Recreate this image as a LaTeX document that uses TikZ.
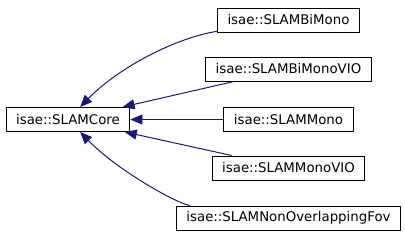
\documentclass[tikz,border=0pt]{standalone}
\usepackage{fontspec}
\setmainfont{DejaVu Sans}
\usetikzlibrary{
    positioning,
    arrows.meta
    }

\definecolor{midnightblue}{HTML}{191970}

\begin{document}
\begin{tikzpicture}[x=0.75pt, y=-0.75pt]
\tikzset{cls/.style =
        {
            rectangle,
            draw=black,
            line width=0.75pt,
            fill=white,
            minimum height=18pt,
            inner xsep=7.5pt,
            inner ysep=0pt,
            font=\fontsize{10}{12}\selectfont
        }
}

\tikzset{inherit/.style =
        {
            midnightblue,
            line width=0.75pt,
            -{Triangle[length=9pt, width=7.5pt]}
        }
}
		\useasboundingbox (0,0) rectangle (405,240);

		\node[cls] (core) at (68,119.5) {isae::SLAMCore};

		\foreach \name / \y / \label in
			{bimono/20/SLAMBiMono,
				bimonovio/69/SLAMBiMonoVIO,
				mono/119.5/SLAMMono,
				monovio/168/SLAMMonoVIO,
				nonoverlap/218/SLAMNonOverlappingFov}
		\node[cls] at (288.5,\y) (\name) {isae::\label};

		\foreach \child in {bimonovio,mono,monovio}
		\draw [inherit] (\child) -- (core);

		\draw [inherit] (bimono) .. controls (175,38) and (118,68) .. (core);
		\draw [inherit] (nonoverlap) .. controls (178,204) and (118,171) .. (core);

	\end{tikzpicture}
\end{document}
